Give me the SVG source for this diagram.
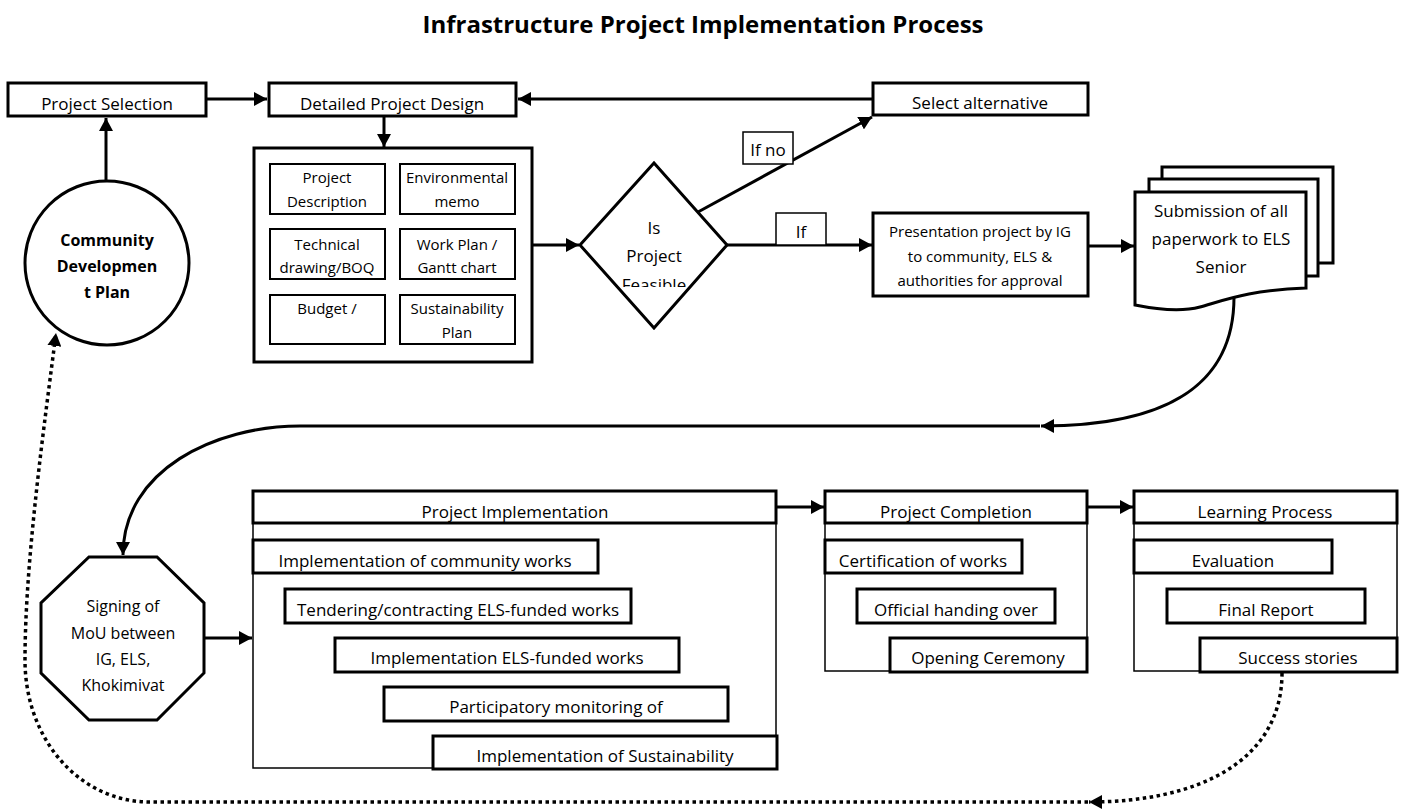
<svg xmlns="http://www.w3.org/2000/svg" width="1408" height="809" viewBox="0 0 1408 809">
<style>
text{font-family:"Open Sans","Liberation Sans",sans-serif;fill:#000;text-anchor:middle}
.t17{font-size:17px}
.t16{font-size:16px}
.t15{font-size:15px}
.title{font-size:24px;font-weight:bold}
.bold{font-weight:bold}
.thick{fill:#fff;stroke:#000;stroke-width:3}
.mid{fill:#fff;stroke:#000;stroke-width:2}
.thin{fill:#fff;stroke:#000;stroke-width:1.5}
.con{fill:none;stroke:#000;stroke-width:3}
.dot{fill:none;stroke:#000;stroke-width:3.5;stroke-dasharray:3.5 3.5}
</style>
<defs>
<marker id="ah" markerUnits="userSpaceOnUse" markerWidth="14" markerHeight="14" refX="13" refY="7" orient="auto">
<path d="M0,0 L13,7 L0,14 Z" fill="#000"/>
</marker>
<clipPath id="clipFeas"><rect x="560" y="150" width="200" height="137"/></clipPath>
</defs>
<rect width="1408" height="809" fill="#fff"/>
<text class="title" x="703" y="33">Infrastructure Project Implementation Process</text>

<g id="connectors">
<line class="con" x1="206" y1="99" x2="267" y2="99" marker-end="url(#ah)"/>
<line class="con" x1="873" y1="99" x2="518" y2="99" marker-end="url(#ah)"/>
<line class="con" x1="384" y1="116" x2="384" y2="147" marker-end="url(#ah)"/>
<line class="con" x1="106" y1="180" x2="106" y2="118" marker-end="url(#ah)"/>
<line class="con" x1="532" y1="245" x2="579" y2="245" marker-end="url(#ah)"/>
<line class="con" x1="698" y1="212" x2="872" y2="117" marker-end="url(#ah)"/>
<line class="con" x1="727" y1="245" x2="872" y2="245" marker-end="url(#ah)"/>
<line class="con" x1="1088" y1="246" x2="1134" y2="246" marker-end="url(#ah)"/>
<path class="con" d="M1234,297 C1234,390 1160,426 1041,426" marker-end="url(#ah)"/>
<path class="con" d="M1040,426 L300,426 C215,426 123,470 123,555" marker-end="url(#ah)"/>
<line class="con" x1="204" y1="638" x2="252" y2="638" marker-end="url(#ah)"/>
<line class="con" x1="776" y1="507" x2="824" y2="507" marker-end="url(#ah)"/>
<line class="con" x1="1087" y1="507" x2="1133" y2="507" marker-end="url(#ah)"/>
<path class="dot" d="M1282,673 C1282,760 1200,802 1089,802" marker-end="url(#ah)"/>
<path class="dot" d="M1088,802 L150,802 C80,802 25,740 25,660 C25,560 45,420 56,333" marker-end="url(#ah)"/>
</g>

<g id="project-selection">
<rect class="thick" x="8" y="83" width="198" height="33"/>
<text class="t17" x="107" y="110">Project Selection</text>
</g>
<g id="detailed-design">
<rect class="thick" x="269" y="83" width="247" height="33"/>
<text class="t17" x="392" y="110">Detailed Project Design</text>
</g>
<g id="select-alternative">
<rect class="thick" x="873" y="83" width="215" height="32"/>
<text class="t17" x="980" y="109">Select alternative</text>
</g>

<g id="community-plan">
<circle class="thick" cx="107" cy="263" r="82"/>
<text class="t16 bold" x="107" y="246">Community</text>
<text class="t16 bold" x="107" y="272">Developmen</text>
<text class="t16 bold" x="107" y="298">t Plan</text>
</g>

<g id="design-docs">
<rect class="thick" x="254" y="148" width="278" height="214"/>
<rect class="mid" x="270" y="164" width="115" height="50"/>
<text class="t15" x="327" y="183">Project</text>
<text class="t15" x="327" y="207">Description</text>
<rect class="mid" x="400" y="164" width="115" height="50"/>
<text class="t15" x="457" y="183">Environmental</text>
<text class="t15" x="457" y="207">memo</text>
<rect class="mid" x="270" y="229" width="115" height="50"/>
<text class="t15" x="327" y="250">Technical</text>
<text class="t15" x="327" y="273">drawing/BOQ</text>
<rect class="mid" x="400" y="229" width="115" height="50"/>
<text class="t15" x="457" y="250">Work Plan /</text>
<text class="t15" x="457" y="273">Gantt chart</text>
<rect class="mid" x="270" y="295" width="115" height="49"/>
<text class="t15" x="327" y="314">Budget /</text>
<rect class="mid" x="400" y="295" width="115" height="49"/>
<text class="t15" x="457" y="314">Sustainability</text>
<text class="t15" x="457" y="338">Plan</text>
</g>

<g id="feasible">
<polygon class="thick" points="654,163 727,245 654,328 580,245"/>
<text class="t17" x="654" y="234">Is</text>
<text class="t17" x="654" y="262">Project</text>
<text class="t17" x="654" y="291" clip-path="url(#clipFeas)">Feasible</text>
</g>

<g id="label-if-no">
<rect class="thin" x="743" y="132" width="50" height="32"/>
<text class="t17" x="768" y="156">If no</text>
</g>
<g id="label-if">
<rect class="thin" x="776" y="213" width="50" height="32"/>
<text class="t17" x="801" y="238">If</text>
</g>

<g id="presentation">
<rect class="thick" x="873" y="213" width="215" height="83"/>
<text class="t15" x="980" y="237">Presentation project by IG</text>
<text class="t15" x="980" y="262">to community, ELS &amp;</text>
<text class="t15" x="980" y="286">authorities for approval</text>
</g>

<g id="submission">
<rect class="thick" x="1162" y="167" width="171" height="96"/>
<rect class="thick" x="1149" y="179" width="169" height="97"/>
<path class="thick" d="M1135,192 L1306,192 L1306,288 C1250,290 1225,300 1200,307 C1185,311 1165,311 1135,305 Z"/>
<text class="t17" x="1221" y="217">Submission of all</text>
<text class="t17" x="1221" y="245">paperwork to ELS</text>
<text class="t17" x="1221" y="273">Senior</text>
</g>

<g id="signing-mou">
<polygon class="thick" points="89,557 157,557 204,603 204,673 157,720 89,720 41,673 41,603"/>
<text class="t16" x="123" y="612">Signing of</text>
<text class="t16" x="123" y="639">MoU between</text>
<text class="t16" x="123" y="665">IG, ELS,</text>
<text class="t16" x="123" y="691">Khokimivat</text>
</g>

<g id="project-implementation">
<rect class="thin" x="253" y="491" width="523" height="277"/>
<rect class="thick" x="253" y="491" width="523" height="32"/>
<text class="t17" x="515" y="518">Project Implementation</text>
<rect class="thick" x="253" y="540" width="345" height="33"/>
<text class="t17" x="425" y="567">Implementation of community works</text>
<rect class="thick" x="285" y="589" width="346" height="34"/>
<text class="t17" x="458" y="616">Tendering/contracting ELS-funded works</text>
<rect class="thick" x="335" y="638" width="344" height="34"/>
<text class="t17" x="507" y="664">Implementation ELS-funded works</text>
<rect class="thick" x="384" y="687" width="344" height="34"/>
<text class="t17" x="556" y="713">Participatory monitoring of</text>
<rect class="thick" x="433" y="736" width="344" height="33"/>
<text class="t17" x="605" y="762">Implementation of Sustainability</text>
</g>

<g id="project-completion">
<rect class="thin" x="825" y="491" width="262" height="180"/>
<rect class="thick" x="825" y="491" width="262" height="32"/>
<text class="t17" x="956" y="518">Project Completion</text>
<rect class="thick" x="825" y="540" width="197" height="33"/>
<text class="t17" x="923" y="567">Certification of works</text>
<rect class="thick" x="857" y="589" width="198" height="34"/>
<text class="t17" x="956" y="616">Official handing over</text>
<rect class="thick" x="890" y="638" width="197" height="34"/>
<text class="t17" x="988" y="664">Opening Ceremony</text>
</g>

<g id="learning-process">
<rect class="thin" x="1134" y="491" width="263" height="180"/>
<rect class="thick" x="1134" y="491" width="263" height="32"/>
<text class="t17" x="1265" y="518">Learning Process</text>
<rect class="thick" x="1134" y="540" width="198" height="33"/>
<text class="t17" x="1233" y="567">Evaluation</text>
<rect class="thick" x="1167" y="589" width="198" height="34"/>
<text class="t17" x="1266" y="616">Final Report</text>
<rect class="thick" x="1200" y="638" width="197" height="34"/>
<text class="t17" x="1298" y="664">Success stories</text>
</g>
</svg>
